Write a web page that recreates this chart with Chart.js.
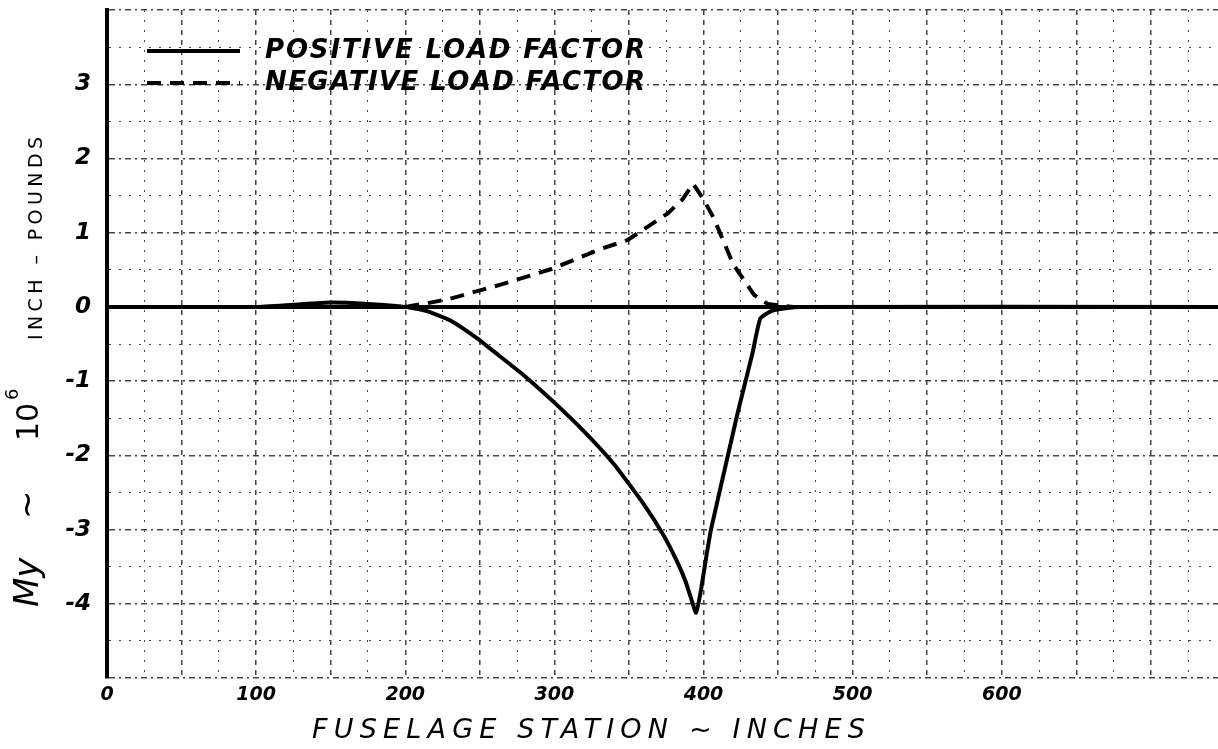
<!DOCTYPE html>
<html>
<head>
<meta charset="utf-8">
<title>Fuselage bending moment My</title>
<script src="https://cdn.jsdelivr.net/npm/chart.js@4.4.1/dist/chart.umd.min.js"></script>
<style>
  html, body { margin: 0; padding: 0; background: #fff; }
  canvas { display: block; }
</style>
</head>
<body>
<canvas id="chart" width="1218" height="749"></canvas>
<script>
// fuselage station (in) vs My (10^6 in-lb)
const positiveStations = [0, 50, 100, 125, 150, 175, 200, 215, 230, 248, 260, 280, 300, 320, 340, 360, 373, 382, 388, 392, 395, 398, 402, 405, 415, 423, 433, 438, 445, 455, 465, 745];
const positiveMoments  = [0, 0, 0, 0.03, 0.06, 0.04, 0, -0.06, -0.18, -0.42, -0.61, -0.93, -1.29, -1.68, -2.12, -2.66, -3.07, -3.42, -3.70, -3.95, -4.12, -3.85, -3.35, -3.0, -2.12, -1.42, -0.61, -0.16, -0.06, -0.02, 0, 0];

const negativeStations = [200, 215, 230, 264, 298, 331, 349, 376, 386, 393, 400, 407, 420, 434, 443, 450, 460];
const negativeMoments  = [0, 0.05, 0.11, 0.30, 0.51, 0.78, 0.90, 1.26, 1.45, 1.66, 1.45, 1.19, 0.57, 0.16, 0.04, 0.02, 0];

const seriesNames = ["POSITIVE LOAD FACTOR", "NEGATIVE LOAD FACTOR"];
const xTickValues = [0, 100, 200, 300, 400, 500, 600];
const xTickLabels = ["0", "100", "200", "300", "400", "500", "600"];
const yTickValues = [3, 2, 1, 0, -1, -2, -3, -4];
const yTickLabels = ["3", "2", "1", "0", "-1", "-2", "-3", "-4"];
const xTitle = "FUSELAGE STATION ~ INCHES";
const yTitleParts = ["My", "~", "10", "6", "INCH – POUNDS"];

const toPoints = (xs, ys) => xs.map((x, i) => ({ x: x, y: ys[i] }));

// text squeezed/stretched to a given width with letter spacing
function fitText(ctx, text, x, y, width) {
    ctx.letterSpacing = "0px";
    const w = ctx.measureText(text).width;
    const gap = (width - w) / (text.length - 1);
    ctx.letterSpacing = gap.toFixed(2) + "px";
    ctx.fillText(text, x, y);
    ctx.letterSpacing = "0px";
}

const plotExtras = {
    id: "plotExtras",
    afterDraw(chart) {
        const ctx = chart.ctx;
        const area = chart.chartArea;
        ctx.save();
        ctx.fillStyle = "#000";

        // legend inside the plot, top left
        chart.data.datasets.forEach((ds, i) => {
            const y = area.top + 41 + i * 32;
            ctx.strokeStyle = "#000";
            ctx.lineWidth = 4;
            ctx.setLineDash(ds.borderDash || []);
            ctx.beginPath();
            ctx.moveTo(area.left + 40, y);
            ctx.lineTo(area.left + 133, y);
            ctx.stroke();
            ctx.setLineDash([]);
            ctx.font = "italic bold 26px 'DejaVu Sans'";
            ctx.textBaseline = "middle";
            fitText(ctx, ds.label, area.left + 158, y, 380);
        });

        // x axis title
        ctx.font = "italic 27px 'DejaVu Sans'";
        ctx.textBaseline = "middle";
        fitText(ctx, xTitle, 312, 731, 553);

        // y axis title, reading upwards
        ctx.translate(38, 607);
        ctx.rotate(-Math.PI / 2);
        ctx.textBaseline = "alphabetic";
        ctx.font = "italic 34px 'DejaVu Sans'";
        ctx.fillText(yTitleParts[0], 0, 0);
        ctx.fillText(yTitleParts[1], 88, 0);
        ctx.font = "30px 'DejaVu Sans'";
        ctx.fillText(yTitleParts[2], 166, 0);
        ctx.font = "18px 'DejaVu Sans'";
        ctx.fillText(yTitleParts[3], 207, -20);
        ctx.font = "19px 'DejaVu Sans'";
        ctx.translate(0, 4);
        fitText(ctx, yTitleParts[4], 267, 0, 203);
        ctx.restore();
    }
};

const tickFont = { family: "'DejaVu Sans'", style: "italic", weight: "bold" };

new Chart(document.getElementById("chart"), {
    type: "scatter",
    data: {
        datasets: [
            {
                label: seriesNames[0],
                data: toPoints(positiveStations, positiveMoments),
                showLine: true,
                borderColor: "#000",
                borderWidth: 4,
                pointRadius: 0,
                tension: 0.15
            },
            {
                label: seriesNames[1],
                data: toPoints(negativeStations, negativeMoments),
                showLine: true,
                borderColor: "#000",
                borderWidth: 4,
                borderDash: [14, 9],
                pointRadius: 0,
                tension: 0
            }
        ]
    },
    options: {
        responsive: false,
        animation: false,
        layout: { padding: 0 },
        plugins: {
            legend: { display: false },
            tooltip: { enabled: false }
        },
        scales: {
            x: {
                type: "linear",
                min: 0,
                max: 745,
                afterFit: scale => {
                    scale.height = 71;
                    scale.paddingRight = 0;
                },
                ticks: {
                    stepSize: 25,
                    includeBounds: false,
                    autoSkip: false,
                    maxRotation: 0,
                    padding: 6,
                    color: "#000",
                    font: { ...tickFont, size: 19 },
                    callback: value => {
                        const i = xTickValues.indexOf(value);
                        return i >= 0 ? xTickLabels[i] : "";
                    }
                },
                grid: {
                    drawTicks: false,
                    color: "#444",
                    lineWidth: ctx => ctx.tick && ctx.tick.value % 50 === 0 ? 1.5 : 1
                },
                border: {
                    display: false,
                    dash: ctx => ctx.tick && ctx.tick.value % 50 === 0 ? [5, 5] : [2, 8]
                }
            },
            y: {
                min: -5,
                max: 4,
                afterFit: scale => {
                    scale.width = 107;
                    scale.paddingTop = 10;
                    scale.paddingBottom = 0;
                },
                ticks: {
                    stepSize: 0.5,
                    autoSkip: false,
                    padding: 16,
                    color: "#000",
                    font: { ...tickFont, size: 23 },
                    callback: value => {
                        const i = yTickValues.indexOf(value);
                        return i >= 0 ? yTickLabels[i] : "";
                    }
                },
                grid: {
                    drawTicks: false,
                    color: ctx => ctx.tick && ctx.tick.value === 0 ? "#000" : "#444",
                    lineWidth: ctx => {
                        const v = ctx.tick ? ctx.tick.value : 1;
                        if (v === 0) return 4;
                        return Number.isInteger(v) ? 1.4 : 1;
                    }
                },
                border: {
                    display: true,
                    color: "#000",
                    width: 4,
                    dash: ctx => {
                        const v = ctx.tick ? ctx.tick.value : 1;
                        if (v === 0) return [];
                        return Number.isInteger(v) ? [6, 4, 2, 4] : [2, 8];
                    }
                }
            }
        }
    },
    plugins: [plotExtras]
});
</script>
</body>
</html>
